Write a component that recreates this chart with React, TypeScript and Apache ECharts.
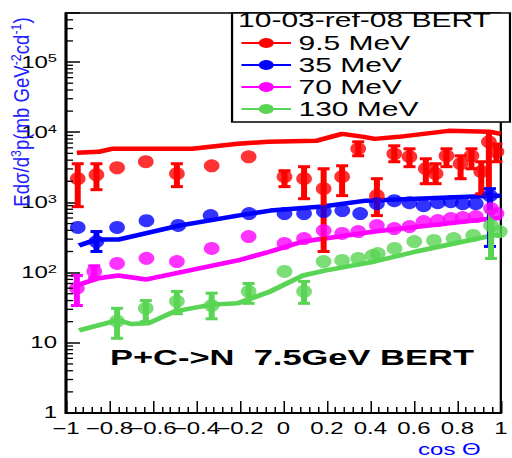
import React, { useEffect, useRef } from 'react';
import * as echarts from 'echarts';

// The reference picture is stretched horizontally; the chart is drawn narrower and stretched with CSS.
const STRETCH = 1.5;
const W = 512 / STRETCH;
const H = 458;
const FONT = "'Liberation Sans', Arial, Helvetica, sans-serif";

const energies = ['9.5 MeV', '35 MeV', '70 MeV', '130 MeV'];
const colors = ['#ff0000', '#0000ff', '#ff00ff', '#59d454'];

// ---- 9.5 MeV data ----
const cos9p5 = [-0.946, -0.86, -0.765, -0.633, -0.49, -0.33, -0.16, 0.005, 0.095, 0.185, 0.27, 0.344, 0.43, 0.51, 0.58, 0.655, 0.7, 0.75, 0.815, 0.865, 0.91, 0.945, 0.98];
const val9p5 = [2180, 2480, 3120, 3800, 2570, 3320, 4470, 2330, 2180, 1570, 2330, 5810, 1250, 4930, 4480, 3020, 2570, 4620, 3560, 4620, 2740, 7310, 5270];
const errCos9p5 = [-0.946, -0.86, -0.49, 0.005, 0.095, 0.185, 0.27, 0.344, 0.43, 0.51, 0.58, 0.655, 0.7, 0.75, 0.815, 0.865, 0.91, 0.945, 0.98];
const errLo9p5 = [870, 1520, 1680, 1680, 1130, 200, 1250, 4620, 650, 3800, 3230, 1850, 1850, 3230, 2180, 3020, 1330, 1250, 3800];
const errHi9p5 = [3560, 3560, 3560, 2830, 3230, 3020, 3330, 7310, 2180, 6410, 5810, 4190, 3560, 5810, 4620, 5810, 3800, 10100, 6800];
const modelCos9p5 = [-0.95, -0.85, -0.79, -0.42, -0.21, -0.07, 0.15, 0.27, 0.37, 0.42, 0.53, 0.76, 0.95, 1.0];
const modelVal9p5 = [5100, 5270, 5810, 5810, 6840, 7310, 7550, 9490, 8600, 8050, 8600, 10470, 10140, 9490];

// ---- 35 MeV data ----
const cos35 = [-0.946, -0.86, -0.765, -0.63, -0.484, -0.335, -0.158, 0.005, 0.095, 0.186, 0.271, 0.353, 0.43, 0.51, 0.58, 0.645, 0.71, 0.77, 0.825, 0.885, 0.95];
const val35 = [440, 277, 440, 550, 470, 650, 695, 695, 695, 740, 765, 695, 960, 1060, 990, 900, 990, 1025, 960, 960, 1250];
const errCos35 = [-0.86, 0.95];
const errLo35 = [200, 236];
const errHi35 = [385, 1570];
const modelCos35 = [-0.94, -0.86, -0.76, -0.7, -0.48, -0.21, -0.06, 0.18, 0.38, 0.96, 1.0];
const modelVal35 = [243, 296, 296, 327, 468, 649, 765, 873, 1061, 1250, 1250];

// ---- 70 MeV data ----
const cos70 = [-0.95, -0.87, -0.765, -0.63, -0.49, -0.33, -0.16, 0.005, 0.095, 0.185, 0.27, 0.344, 0.43, 0.51, 0.58, 0.645, 0.71, 0.77, 0.825, 0.885, 0.955, 0.98];
const val70 = [60, 104, 135, 160, 144, 221, 327, 260, 306, 398, 361, 385, 468, 424, 453, 534, 551, 589, 608, 628, 817, 695];
const errCos70 = [-0.95, -0.87];
const errLo70 = [34, 85];
const errHi70 = [91, 125];
const modelCos70 = [-0.95, -0.85, -0.76, -0.63, -0.21, -0.06, 0.09, 0.19, 0.42, 0.96, 1.0];
const modelVal70 = [66, 83, 91, 80, 149, 200, 277, 306, 385, 589, 600];

// ---- 130 MeV data ----
const cos130 = [-0.765, -0.633, -0.49, -0.33, -0.16, 0.005, 0.095, 0.185, 0.27, 0.344, 0.41, 0.434, 0.511, 0.602, 0.692, 0.783, 0.873, 0.955, 0.995];
const val130 = [20.3, 31, 39, 34, 54, 104, 54, 144, 149, 159, 175, 187, 221, 277, 287, 306, 338, 468, 385];
const errCos130 = [-0.765, -0.633, -0.49, -0.33, -0.16, 0.095, 0.955];
const errLo130 = [11.6, 20, 26, 22, 36.5, 36.5, 159];
const errHi130 = [31, 40, 54, 51, 70, 75, 740];
const modelCos130 = [-0.94, -0.76, -0.7, -0.62, -0.5, -0.33, -0.21, -0.06, 0.09, 0.19, 0.42, 0.61, 0.96, 1.0];
const modelVal130 = [15, 21, 18.5, 19, 28, 35, 36.5, 54, 91, 107, 144, 200, 338, 340];

// log-axis minor tick positions (2..9 of each decade)
const yMinorTickValues = [
  2, 3, 4, 5, 6, 7, 8, 9,
  20, 30, 40, 50, 60, 70, 80, 90,
  200, 300, 400, 500, 600, 700, 800, 900,
  2000, 3000, 4000, 5000, 6000, 7000, 8000, 9000,
  20000, 30000, 40000, 50000, 60000, 70000, 80000, 90000,
  200000, 300000, 400000,
];

const points = [
  { x: cos9p5, y: val9p5, ex: errCos9p5, lo: errLo9p5, hi: errHi9p5, mx: modelCos9p5, my: modelVal9p5 },
  { x: cos35, y: val35, ex: errCos35, lo: errLo35, hi: errHi35, mx: modelCos35, my: modelVal35 },
  { x: cos70, y: val70, ex: errCos70, lo: errLo70, hi: errHi70, mx: modelCos70, my: modelVal70 },
  { x: cos130, y: val130, ex: errCos130, lo: errLo130, hi: errHi130, mx: modelCos130, my: modelVal130 },
];

export default function App() {
  const ref = useRef<HTMLDivElement>(null);
  useEffect(() => {
    document.body.style.margin = '0';
    const chart = echarts.init(ref.current!, undefined, { renderer: 'svg', width: W, height: H });

    const series: any[] = [];
    points.forEach((s, i) => {
      const color = colors[i];
      series.push({
        name: energies[i],
        type: 'line',
        data: s.mx.map((c, k) => [c, s.my[k]]),
        showSymbol: false,
        symbol: 'circle',
        lineStyle: { color, width: 4.5 },
        itemStyle: { color },
        silent: true,
        z: 3,
      });
      series.push({
        name: energies[i],
        type: 'custom',
        data: s.ex.map((c, k) => [c, s.lo[k], s.hi[k]]),
        encode: { x: 0, y: [1, 2] },
        silent: true,
        z: 4,
        renderItem: (params: any, api: any) => {
          const x = api.value(0);
          const p1 = api.coord([x, api.value(1)]);
          const p2 = api.coord([x, api.value(2)]);
          return {
            type: 'group',
            children: [
              { type: 'line', shape: { x1: p1[0], y1: p1[1], x2: p2[0], y2: p2[1] }, style: { stroke: color, lineWidth: 4 } },
              { type: 'line', shape: { x1: p1[0] - 4, y1: p1[1], x2: p1[0] + 4, y2: p1[1] }, style: { stroke: color, lineWidth: 3 } },
              { type: 'line', shape: { x1: p2[0] - 4, y1: p2[1], x2: p2[0] + 4, y2: p2[1] }, style: { stroke: color, lineWidth: 3 } },
            ],
          };
        },
      });
      series.push({
        name: energies[i],
        type: 'scatter',
        data: s.x.map((c, k) => [c, s.y[k]]),
        symbol: 'circle',
        symbolSize: [10.5, 13],
        itemStyle: { color },
        silent: true,
        z: 5,
      });
    });
    series.push({
      name: 'yMinorTicks',
      type: 'custom',
      data: yMinorTickValues.map((v) => [-1, v]),
      encode: { x: 0, y: 1 },
      silent: true,
      z: 10,
      renderItem: (params: any, api: any) => {
        const p = api.coord([api.value(0), api.value(1)]);
        return { type: 'line', shape: { x1: p[0], y1: p[1], x2: p[0] + 4.7, y2: p[1] }, style: { stroke: '#000', lineWidth: 1.3 } };
      },
    });

    const option: any = {
      animation: false,
      backgroundColor: '#fff',
      title: {
        text: '10-03-ref-08 BERT',
        left: 158.7,
        top: 10,
        padding: 0,
        textStyle: { fontSize: 20, fontWeight: 'normal', fontFamily: FONT, color: '#000', lineHeight: 20 },
      },
      legend: {
        data: energies,
        orient: 'vertical',
        left: 160,
        top: 33,
        itemWidth: 33,
        itemHeight: 12.5,
        itemGap: 2,
        padding: 0,
        selectedMode: false,
        textStyle: { fontSize: 20, fontFamily: FONT, color: '#000', lineHeight: 20 },
      },
      grid: {
        left: 44,
        right: W - 338.67,
        top: 13,
        bottom: 43,
        show: true,
        borderColor: '#000',
        borderWidth: 1.5,
      },
      xAxis: {
        type: 'value',
        min: -1,
        max: 1,
        interval: 0.2,
        name: 'cos \u0398',
        nameLocation: 'end',
        nameGap: -13.4,
        nameTextStyle: { color: '#0000ff', fontSize: 16, fontFamily: FONT, align: 'right', verticalAlign: 'top', padding: [29, 0, 0, 0] },
        axisLine: { show: true, onZero: false, lineStyle: { color: '#000', width: 2 } },
        axisTick: { show: true, inside: true, length: 12, lineStyle: { color: '#000', width: 1 } },
        minorTick: { show: true, splitNumber: 5, length: 6, lineStyle: { color: '#000', width: 1 } },
        splitLine: { show: false },
        axisLabel: {
          margin: 8,
          color: '#000',
          fontSize: 16,
          fontFamily: FONT,
          showMinLabel: true,
          showMaxLabel: true,
          formatter: (v: number) => {
            const r = Math.round(v * 10) / 10;
            if (r === 0) return '0';
            return (r < 0 ? '\u2212' : '') + Math.abs(r).toString();
          },
        },
      },
      yAxis: {
        type: 'log',
        logBase: 10,
        min: 1,
        max: 500000,
        axisLine: { show: true, onZero: false, lineStyle: { color: '#000', width: 2 } },
        axisTick: { show: true, inside: true, length: 9.3, lineStyle: { color: '#000', width: 1.5 } },
        minorTick: { show: false },
        splitLine: { show: false },
        axisLabel: {
          margin: 6,
          color: '#000',
          fontSize: 16,
          fontFamily: FONT,
          formatter: (v: number) => {
            const e = Math.log10(v);
            const n = Math.round(e);
            if (Math.abs(e - n) > 1e-6) return '';
            if (n === 0) return '{b|1}';
            if (n === 1) return '{b|10}';
            return '{b|10}{s|' + n + '}';
          },
          rich: {
            b: { fontSize: 16, fontFamily: FONT, color: '#000', lineHeight: 18 },
            s: { fontSize: 11, fontFamily: FONT, color: '#000', lineHeight: 11, verticalAlign: 'top', padding: [0, 0, 9, 0] },
          },
        },
      },
      graphic: [
        {
          type: 'rect',
          z: 2,
          shape: { x: 154.7, y: 13, width: 185.3, height: 109 },
          style: { fill: '#fff', stroke: '#000', lineWidth: 1.5 },
        },
        {
          type: 'text',
          x: 13.7,
          y: 112,
          rotation: Math.PI / 2,
          scaleX: 1.24,
          z: 20,
          style: {
            text: '{n|Ed\u03c3/d}{s|3}{n|p(mb GeV}{s|-2}{n|cd}{s|-1}{n|)}',
            align: 'center',
            verticalAlign: 'middle',
            fill: '#2020ff',
            rich: {
              n: { fontSize: 15, fontFamily: FONT, fill: '#2020ff', lineHeight: 16 },
              s: { fontSize: 10, fontFamily: FONT, fill: '#2020ff', lineHeight: 10, verticalAlign: 'top', padding: [0, 0, 8, 0] },
            },
          },
        },
        {
          type: 'text',
          x: 73.3,
          y: 357,
          z: 20,
          style: {
            text: 'P+C->N  7.5GeV BERT',
            fontSize: 23,
            fontWeight: 'bold',
            fontFamily: FONT,
            fill: '#000',
            align: 'left',
            verticalAlign: 'middle',
          },
        },
      ],
      series,
    };
    chart.setOption(option);
    return () => chart.dispose();
  }, []);

  return (
    <div style={{ width: 512, height: 458, overflow: 'hidden', position: 'relative' }}>
      <div
        ref={ref}
        style={{ width: W, height: H, transform: `scaleX(${STRETCH})`, transformOrigin: '0 0' }}
      />
    </div>
  );
}
